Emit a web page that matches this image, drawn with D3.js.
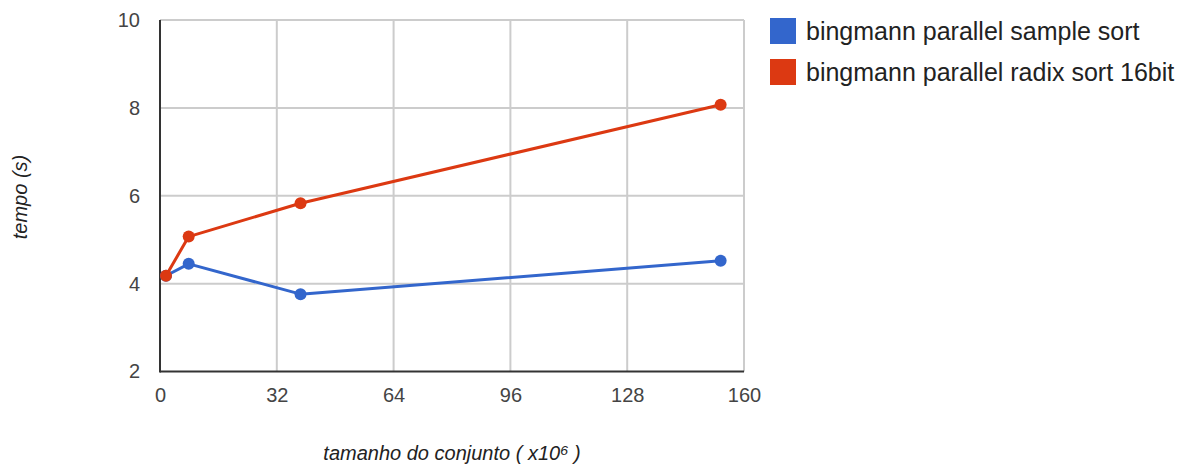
<!DOCTYPE html>
<html>
<head>
<meta charset="utf-8">
<script src="https://cdn.jsdelivr.net/npm/d3@7"></script>
<style>
  html, body { margin: 0; padding: 0; background: #fff; }
  svg { display: block; font-family: "Liberation Sans", Arial, sans-serif; }
</style>
</head>
<body>
<svg id="chart" width="1189" height="464"></svg>
<script>
// Set sizes (millions of elements) and run times in seconds
const sizes = [1.64, 7.86, 38.5, 153.6];
const sampleSort = [4.18, 4.45, 3.76, 4.52];
const radixSort16 = [4.18, 5.07, 5.83, 8.07];
const seriesNames = ["bingmann parallel sample sort", "bingmann parallel radix sort 16bit"];
const seriesColors = ["#3366cc", "#dc3912"];
const xTicks = [0, 32, 64, 96, 128, 160];
const yTicks = [2, 4, 6, 8, 10];

const svg = d3.select("#chart");
const plot = { left: 160, right: 744, top: 20, bottom: 371.5 };

const x = d3.scaleLinear().domain([0, 160]).range([plot.left, plot.right]);
const y = d3.scaleLinear().domain([2, 10]).range([plot.bottom, plot.top]);

// Gridlines
svg.append("g")
  .selectAll("line.v")
  .data(xTicks.filter(d => d > 0))
  .join("line")
  .attr("x1", d => x(d)).attr("x2", d => x(d))
  .attr("y1", plot.top).attr("y2", plot.bottom)
  .attr("stroke", "#cccccc").attr("stroke-width", 2);
svg.append("g")
  .selectAll("line.h")
  .data(yTicks.filter(d => d > 2))
  .join("line")
  .attr("x1", plot.left).attr("x2", plot.right)
  .attr("y1", d => y(d)).attr("y2", d => y(d))
  .attr("stroke", "#cccccc").attr("stroke-width", 2);

// Axes
const xAxis = svg.append("g")
  .attr("transform", `translate(0,${plot.bottom})`)
  .call(d3.axisBottom(x).tickValues(xTicks).tickSize(0).tickPadding(16).tickFormat(d3.format("d")));
const yAxis = svg.append("g")
  .attr("transform", `translate(${plot.left},0)`)
  .call(d3.axisLeft(y).tickValues(yTicks).tickSize(0).tickPadding(20).tickFormat(d3.format("d")));
[xAxis, yAxis].forEach(a => {
  a.select(".domain").remove();
  a.selectAll("text")
    .attr("fill", "#444444")
    .style("font-size", "20px")
    .style("font-family", "'Liberation Sans', Arial, sans-serif");
});

// Baseline and left axis lines
svg.append("line")
  .attr("x1", plot.left).attr("x2", plot.right)
  .attr("y1", plot.bottom).attr("y2", plot.bottom)
  .attr("stroke", "#333333").attr("stroke-width", 2);
svg.append("line")
  .attr("x1", plot.left).attr("x2", plot.left)
  .attr("y1", plot.top).attr("y2", plot.bottom + 1)
  .attr("stroke", "#333333").attr("stroke-width", 2);

// Series lines and points
const series = [sampleSort, radixSort16];
const line = d3.line().x(d => x(d[0])).y(d => y(d[1]));
series.forEach((vals, i) => {
  const pts = sizes.map((s, j) => [s, vals[j]]);
  const g = svg.append("g");
  g.append("path")
    .datum(pts)
    .attr("d", line)
    .attr("fill", "none")
    .attr("stroke", seriesColors[i])
    .attr("stroke-width", 3)
    .attr("stroke-linejoin", "round");
  g.selectAll("circle")
    .data(pts)
    .join("circle")
    .attr("cx", d => x(d[0]))
    .attr("cy", d => y(d[1]))
    .attr("r", 6)
    .attr("fill", seriesColors[i]);
});

// Legend
const legend = svg.append("g").attr("transform", "translate(770,18)");
seriesNames.forEach((name, i) => {
  const row = legend.append("g").attr("transform", `translate(0,${i * 41})`);
  row.append("rect").attr("width", 26).attr("height", 26).attr("fill", seriesColors[i]);
  row.append("text")
    .attr("x", 36).attr("y", 22)
    .attr("fill", "#222222")
    .style("font-size", "25px")
    .text(name);
});

// Axis titles
svg.append("text")
  .attr("transform", "translate(27,197) rotate(-90)")
  .attr("text-anchor", "middle")
  .attr("fill", "#222222")
  .style("font-size", "20px")
  .style("font-style", "italic")
  .text("tempo (s)");
svg.append("text")
  .attr("x", 452).attr("y", 460)
  .attr("text-anchor", "middle")
  .attr("fill", "#222222")
  .style("font-size", "20px")
  .style("font-style", "italic")
  .text("tamanho do conjunto ( x10\u2076 )");
</script>
</body>
</html>
